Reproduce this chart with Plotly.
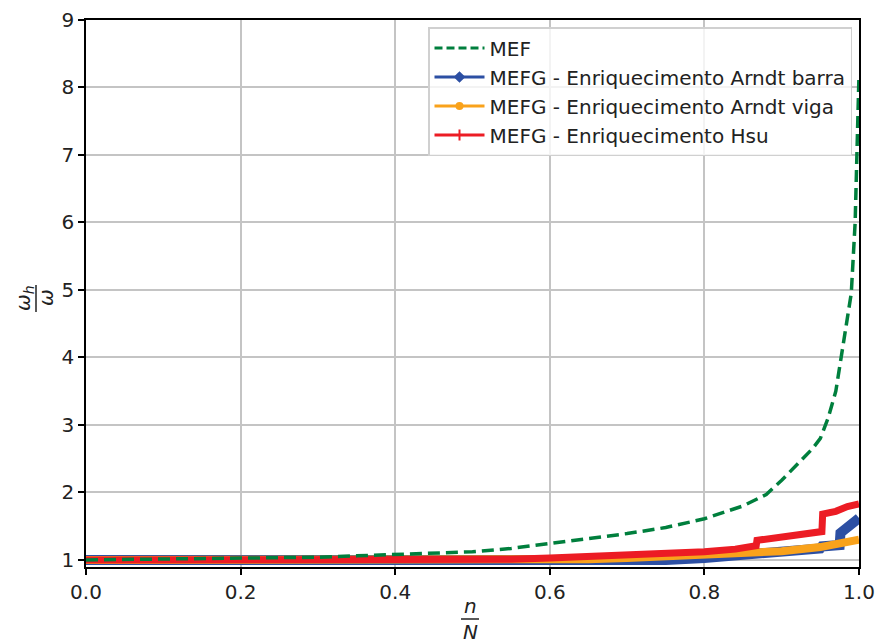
import plotly.graph_objects as go

# ---- data ----
mef_x = [0.0, 0.1, 0.2, 0.3, 0.35, 0.4, 0.45, 0.5, 0.55, 0.6, 0.65, 0.7, 0.75, 0.8,
         0.85, 0.88, 0.9, 0.92, 0.94, 0.95, 0.96, 0.97, 0.975, 0.98, 0.985, 0.99, 0.995, 1.0]
mef_y = [1.0, 1.01, 1.02, 1.04, 1.06, 1.08, 1.10, 1.12, 1.17, 1.24, 1.31, 1.39, 1.48, 1.61,
         1.80, 1.97, 2.18, 2.42, 2.65, 2.80, 3.10, 3.50, 3.85, 4.20, 4.60, 4.95, 6.00, 8.20]

barra_x = [0.0, 0.2, 0.4, 0.55, 0.6, 0.65, 0.7, 0.75, 0.8, 0.85, 0.87, 0.9, 0.95, 0.952,
           0.975, 0.976, 0.985, 1.0]
barra_y = [1.0, 1.0, 0.99, 0.98, 0.97, 0.97, 0.98, 1.0, 1.03, 1.07, 1.10, 1.12, 1.17, 1.20,
           1.22, 1.40, 1.48, 1.62]

viga_x = [0.0, 0.2, 0.4, 0.6, 0.65, 0.7, 0.75, 0.8, 0.85, 0.9, 0.95, 0.97, 1.0]
viga_y = [1.0, 1.0, 1.0, 1.0, 1.01, 1.03, 1.05, 1.07, 1.10, 1.13, 1.19, 1.24, 1.30]

hsu_x = [0.0, 0.2, 0.4, 0.55, 0.6, 0.65, 0.7, 0.75, 0.8, 0.84, 0.867, 0.868, 0.9, 0.93,
         0.952, 0.953, 0.97, 0.985, 1.0]
hsu_y = [1.0, 1.0, 1.0, 1.01, 1.03, 1.05, 1.08, 1.10, 1.12, 1.16, 1.21, 1.29, 1.34, 1.38,
         1.42, 1.68, 1.72, 1.79, 1.83]

names = ["MEF",
         "MEFG - Enriquecimento Arndt barra",
         "MEFG - Enriquecimento Arndt viga",
         "MEFG - Enriquecimento Hsu"]
x_ticks = [0.0, 0.2, 0.4, 0.6, 0.8, 1.0]
y_ticks = [1, 2, 3, 4, 5, 6, 7, 8, 9]

GREEN = "#007f3d"
BLUE = "#2c4fa3"
ORANGE = "#f9a21b"
RED = "#ec1c24"
FONT = "DejaVu Sans"
TXT = "#222222"

fig = go.Figure()

# thick data strokes (no legend)
fig.add_trace(go.Scatter(x=barra_x, y=barra_y, mode="lines", showlegend=False,
                         line=dict(color=BLUE, width=10), legendgroup="b"))
fig.add_trace(go.Scatter(x=viga_x, y=viga_y, mode="lines", showlegend=False,
                         line=dict(color=ORANGE, width=8), legendgroup="v"))
fig.add_trace(go.Scatter(x=hsu_x, y=hsu_y, mode="lines", showlegend=False,
                         line=dict(color=RED, width=7), legendgroup="h"))
fig.add_trace(go.Scatter(x=mef_x, y=mef_y, mode="lines", showlegend=False,
                         line=dict(color=GREEN, width=3.5, dash="12px,6px"), legendgroup="m"))

# legend entries
fig.add_trace(go.Scatter(x=[None], y=[None], mode="lines", name=names[0], legendgroup="m",
                         line=dict(color=GREEN, width=3, dash="8px,4px")))
fig.add_trace(go.Scatter(x=[None], y=[None], mode="lines+markers", name=names[1], legendgroup="b",
                         line=dict(color=BLUE, width=3), marker=dict(symbol="diamond", size=9, color=BLUE)))
fig.add_trace(go.Scatter(x=[None], y=[None], mode="lines+markers", name=names[2], legendgroup="v",
                         line=dict(color=ORANGE, width=3), marker=dict(symbol="circle", size=8, color=ORANGE)))
fig.add_trace(go.Scatter(x=[None], y=[None], mode="lines+markers", name=names[3], legendgroup="h",
                         line=dict(color=RED, width=3), marker=dict(symbol="cross-thin", size=8,
                                                                   line=dict(color=RED, width=2))))

L, R, T, B = 86, 17, 20, 77
W, H = 876, 644
pw, ph = W - L - R, H - T - B

def px2x(px):
    return (px - L) / pw

def py2y(py):
    return (H - B - py) / ph

axis_common = dict(showline=True, linecolor="black", linewidth=1.5, mirror=True,
                   ticks="outside", ticklen=6, tickwidth=1.5, tickcolor="black",
                   showgrid=True, gridcolor="#c4c4c4", gridwidth=1.5, zeroline=False,
                   automargin=False,
                   tickfont=dict(family=FONT, size=20, color=TXT))

fig.update_layout(
    width=W, height=H, autosize=False,
    margin=dict(l=L, r=R, t=T, b=B, autoexpand=False),
    paper_bgcolor="white", plot_bgcolor="white",
    font=dict(family=FONT, size=20, color=TXT),
    xaxis=dict(range=[0, 1], tickvals=x_ticks, tickformat=".1f", **axis_common),
    yaxis=dict(range=[0.895, 9], tickvals=y_ticks, **axis_common),
    legend=dict(x=px2x(428), y=py2y(27), xanchor="left", yanchor="top",
                bgcolor="rgba(255,255,255,0.8)", bordercolor="#d0d0d0", borderwidth=1.5,
                font=dict(family=FONT, size=20, color=TXT), tracegroupgap=0,
                itemwidth=50),
)

ann_font = dict(family=FONT, size=20, color=TXT)

# x label: n / N
fig.add_annotation(text="<i>n</i>", xref="paper", yref="paper", x=px2x(470), y=py2y(606),
                   xanchor="center", yanchor="middle", showarrow=False, font=ann_font)
fig.add_annotation(text="<i>N</i>", xref="paper", yref="paper", x=px2x(470), y=py2y(632),
                   xanchor="center", yanchor="middle", showarrow=False, font=ann_font)
fig.add_shape(type="line", xref="paper", yref="paper", x0=px2x(461), x1=px2x(479),
              y0=py2y(619), y1=py2y(619), line=dict(color=TXT, width=1.5))

# y label: omega_h / omega (rotated)
fig.add_annotation(text="<i>ω<sub>h</sub></i>", xref="paper", yref="paper", x=px2x(24), y=py2y(298),
                   xanchor="center", yanchor="middle", showarrow=False, textangle=-90, font=ann_font)
fig.add_annotation(text="<i>ω</i>", xref="paper", yref="paper", x=px2x(46), y=py2y(298),
                   xanchor="center", yanchor="middle", showarrow=False, textangle=-90, font=ann_font)
fig.add_shape(type="line", xref="paper", yref="paper", x0=px2x(36), x1=px2x(36),
              y0=py2y(285), y1=py2y(312), line=dict(color=TXT, width=1.5))

fig.write_html("out.html",
               config={"responsive": False, "displayModeBar": False},
               post_script="document.body.style.margin='0';document.body.style.overflow='hidden';")
